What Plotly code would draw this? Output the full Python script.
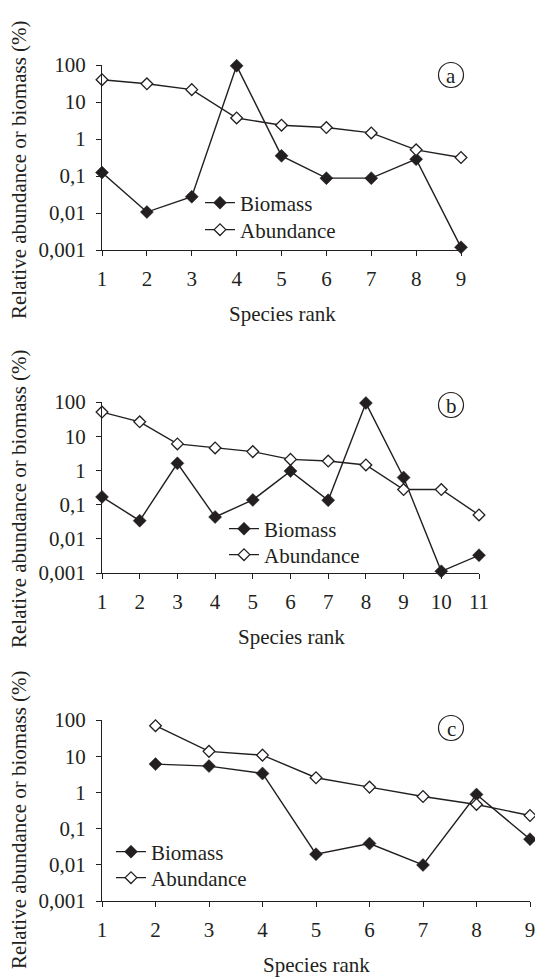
import plotly.graph_objects as go

OFF = 0
W, H = 535, 978
FONT = "Liberation Serif"
INK = "#231f20"

# ---------------- data ----------------
ranks_a = [1, 2, 3, 4, 5, 6, 7, 8, 9]
biomass_a = [0.124, 0.0106, 0.0275, 95, 0.35, 0.0875, 0.0875, 0.285, 0.00118]
abundance_a = [40, 31, 21.6, 3.7, 2.36, 2.04, 1.46, 0.51, 0.316]

ranks_b = [1, 2, 3, 4, 5, 6, 7, 8, 9, 10, 11]
biomass_b = [0.168, 0.0339, 1.61, 0.0434, 0.137, 0.955, 0.134, 93, 0.62, 0.00112, 0.0033]
abundance_b = [50.8, 26.4, 5.95, 4.54, 3.54, 2.1, 1.88, 1.44, 0.276, 0.276, 0.0497]

ranks_c = [2, 3, 4, 5, 6, 7, 8, 9]
biomass_c = [6.05, 5.33, 3.34, 0.0196, 0.0386, 0.0099, 0.877, 0.0509]
abundance_c = [69.7, 13.6, 10.7, 2.54, 1.40, 0.771, 0.464, 0.23]

y_tickvals = [0.001, 0.01, 0.1, 1, 10, 100]
y_ticktext = ["0,001", "0,01", "0,1", "1", "10", "100"]
panel_labels = ["a", "b", "c"]
x_title = "Species rank"
y_title = "Relative abundance or biomass (%)"


def px(x):
    return (x - OFF) / W


def py(y):
    return 1 - (y - OFF) / H


# ---------------- layout geometry (page pixels) ----------------
panels = [
    dict(x0=102, x1=461, y0=65, y1=250, xmax=9, ranks=ranks_a, bio=biomass_a, abu=abundance_a,
         circ=(451, 75), legx=240, legy=(203, 230), ytitle=170, xtitle=(282, 314)),
    dict(x0=102, x1=479, y0=402, y1=573, xmax=11, ranks=ranks_b, bio=biomass_b, abu=abundance_b,
         circ=(451, 405), legx=264, legy=(529, 555), ytitle=499, xtitle=(291, 637)),
    dict(x0=102, x1=530, y0=720, y1=901, xmax=9, ranks=ranks_c, bio=biomass_c, abu=abundance_c,
         circ=(451, 728), legx=151, legy=(852, 878), ytitle=820, xtitle=(316, 965)),
]

fig = go.Figure()
annotations = []
shapes = []
layout_axes = {}

for i, p in enumerate(panels):
    n = i + 1
    xa = "x" if n == 1 else f"x{n}"
    ya = "y" if n == 1 else f"y{n}"
    leg_b = "legend" if n == 1 else f"legend{2 * n - 1}"
    leg_a = f"legend{2 * n}"

    fig.add_trace(go.Scatter(
        x=p["ranks"], y=p["bio"], name="Biomass", mode="lines+markers",
        xaxis=xa, yaxis=ya, legend=leg_b, cliponaxis=False, showlegend=True,
        line=dict(color=INK, width=1.4),
        marker=dict(symbol="diamond", size=10, color=INK, line=dict(color=INK, width=0.5)),
    ))
    fig.add_trace(go.Scatter(
        x=p["ranks"], y=p["abu"], name="Abundance", mode="lines+markers",
        xaxis=xa, yaxis=ya, legend=leg_a, cliponaxis=False, showlegend=True,
        line=dict(color=INK, width=1.4),
        marker=dict(symbol="diamond", size=9, color="white", line=dict(color=INK, width=1.3)),
    ))

    xkey = "xaxis" if n == 1 else f"xaxis{n}"
    ykey = "yaxis" if n == 1 else f"yaxis{n}"
    layout_axes[xkey] = dict(
        domain=[px(p["x0"]), min(1.0, px(p["x1"]))], anchor=ya, automargin=False,
        range=[1, p["xmax"]], tickvals=list(range(1, p["xmax"] + 1)),
        showgrid=False, zeroline=False, showline=True, linecolor=INK, linewidth=1.3,
        ticks="outside", ticklen=5, tickwidth=1.2, tickcolor=INK,
        tickfont=dict(family=FONT, size=21, color=INK), ticklabelstandoff=5,
        ticklabeloverflow="allow",
    )
    layout_axes[ykey] = dict(
        domain=[py(p["y1"]), py(p["y0"])], anchor=xa, type="log", automargin=False,
        range=[-3, 2], tickvals=y_tickvals, ticktext=y_ticktext,
        showgrid=False, zeroline=False, showline=True, linecolor=INK, linewidth=1.3,
        ticks="outside", ticklen=5, tickwidth=1.2, tickcolor=INK,
        tickfont=dict(family=FONT, size=21, color=INK), ticklabelstandoff=6,
        ticklabeloverflow="allow",
    )
    for leg, yy in ((leg_b, p["legy"][0]), (leg_a, p["legy"][1])):
        layout_axes[leg] = dict(
            x=px(p["legx"] - 40), y=py(yy), xanchor="left", yanchor="middle",
            bgcolor="rgba(0,0,0,0)", font=dict(family=FONT, size=21, color=INK),
            borderwidth=0,
        )

    annotations.append(dict(
        text=y_title, x=px(19), y=py(p["ytitle"]), xref="paper", yref="paper",
        textangle=-90, showarrow=False, xanchor="center", yanchor="middle",
        font=dict(family=FONT, size=21, color=INK),
    ))
    annotations.append(dict(
        text=x_title, x=px(p["xtitle"][0]), y=py(p["xtitle"][1]),
        xref="paper", yref="paper",
        showarrow=False, xanchor="center", yanchor="middle",
        font=dict(family=FONT, size=21, color=INK),
    ))
    cx, cy = p["circ"]
    r = 12.5
    shapes.append(dict(
        type="circle", xref="paper", yref="paper",
        x0=px(cx - r), x1=px(cx + r), y0=py(cy + r), y1=py(cy - r),
        line=dict(color=INK, width=1.2),
    ))
    annotations.append(dict(
        text=panel_labels[i], x=px(cx), y=py(cy + 1), xref="paper", yref="paper",
        showarrow=False, xanchor="center", yanchor="middle",
        font=dict(family=FONT, size=21, color=INK),
    ))

fig.update_layout(
    template="none",
    showlegend=True,
    hovermode=False,
    width=W, height=H, autosize=False,
    margin=dict(l=0, r=0, t=0, b=0, pad=0, autoexpand=False),
    font=dict(family=FONT, size=21, color=INK),
    paper_bgcolor="white", plot_bgcolor="white",
    annotations=annotations, shapes=shapes,
    **layout_axes,
)

fig.write_html(
    "out.html",
    config={"displayModeBar": False, "staticPlot": False},
    post_script="document.body.style.margin='0';document.body.style.overflow='hidden';",
)
